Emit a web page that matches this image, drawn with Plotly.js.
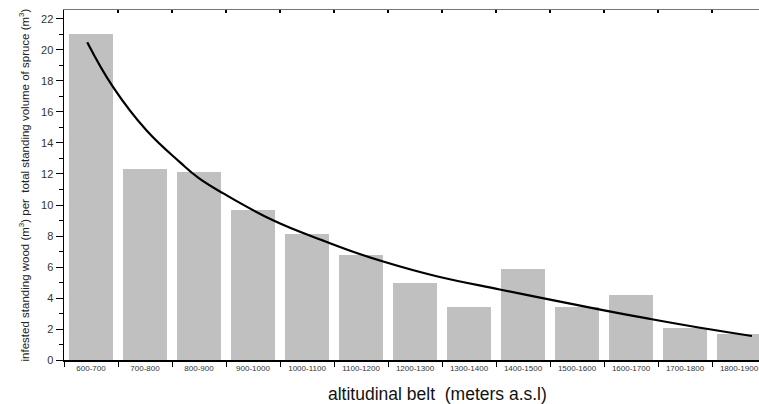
<!DOCTYPE html>
<html>
<head>
<meta charset="utf-8">
<script src="https://cdn.plot.ly/plotly-3.0.1.min.js"></script>
<style>html,body{margin:0;padding:0;background:#fff;}#chart{width:759px;height:404px;}</style>
</head>
<body>
<div id="chart"></div>
<script>
const belts = ["600-700","700-800","800-900","900-1000","1000-1100","1100-1200","1200-1300","1300-1400","1400-1500","1500-1600","1600-1700","1700-1800","1800-1900"];
const infested = [21.0, 12.3, 12.15, 9.7, 8.1, 6.8, 4.95, 3.45, 5.85, 3.45, 4.2, 2.05, 1.65];
const curveAlt = [643, 691, 753, 815, 849, 895, 988, 1080, 1130, 1191, 1290, 1407, 1500, 1593, 1685, 1778, 1874];
const curveVal = [20.5, 17.6, 14.8, 12.75, 11.75, 10.75, 9.0, 7.7, 7.05, 6.35, 5.4, 4.55, 3.9, 3.25, 2.65, 2.08, 1.55];
const beltEdges = [700, 800, 900, 1000, 1100, 1200, 1300, 1400, 1500, 1600, 1700, 1800];
const yTicks = [0, 2, 4, 6, 8, 10, 12, 14, 16, 18, 20, 22];

const traces = [
  {type: "bar", x: belts, y: infested, width: 0.815,
   marker: {color: "#c0c0c0", line: {width: 0}}, xaxis: "x", yaxis: "y", hoverinfo: "skip"},
  {type: "scatter", mode: "lines", x: curveAlt, y: curveVal, line: {color: "#000", width: 2.2, shape: "spline", smoothing: 1.2},
   xaxis: "x2", yaxis: "y", hoverinfo: "skip"}
];

const layout = {
  width: 759, height: 404,
  margin: {l: 64, r: 0, t: 10, b: 44, pad: 0},
  paper_bgcolor: "#fff", plot_bgcolor: "#fff",
  showlegend: false,
  font: {family: "Liberation Sans, Arial, sans-serif", color: "#222"},
  bargap: 0,
  xaxis: {
    type: "category", categoryorder: "array", categoryarray: belts,
    range: [-0.5, 12.37], tickson: "boundaries", ticks: "outside", ticklen: 5, tickwidth: 1, tickcolor: "#000",
    showline: true, linecolor: "#000", linewidth: 1.5, showgrid: false, zeroline: false,
    tickfont: {size: 8, color: "#333"}, fixedrange: true
  },
  xaxis2: {
    overlaying: "x", side: "top", range: [600, 1887], tickmode: "array", tickvals: beltEdges,
    ticks: "inside", ticklen: 3, tickwidth: 1.5, tickcolor: "#000",
    showline: true, linecolor: "#777", linewidth: 1.5, showticklabels: false, showgrid: false, zeroline: false
  },
  yaxis: {
    range: [0, 22.58], tickmode: "array", tickvals: yTicks, ticks: "outside", ticklen: 7, tickwidth: 1, tickcolor: "#000",
    minor: {dtick: 1, tick0: 0, ticks: "outside", ticklen: 4, tickcolor: "#000", showgrid: false},
    showline: true, linecolor: "#000", linewidth: 1.5, showgrid: false, zeroline: false,
    tickfont: {size: 11, color: "#333"},
    title: {text: "infested standing wood (m<sup>3</sup>) per&nbsp; total standing volume of spruce (m<sup>3</sup>)",
            font: {size: 11.5, color: "#222"}, standoff: 9}
  },
  annotations: [
    {text: "altitudinal belt&nbsp; (meters a.s.l)", xref: "paper", yref: "paper", x: 0.537, y: -0.097,
     xanchor: "center", yanchor: "middle", showarrow: false, font: {size: 17.5, color: "#111"}}
  ]
};

Plotly.newPlot("chart", traces, layout, {displayModeBar: false, staticPlot: true});
</script>
</body>
</html>
